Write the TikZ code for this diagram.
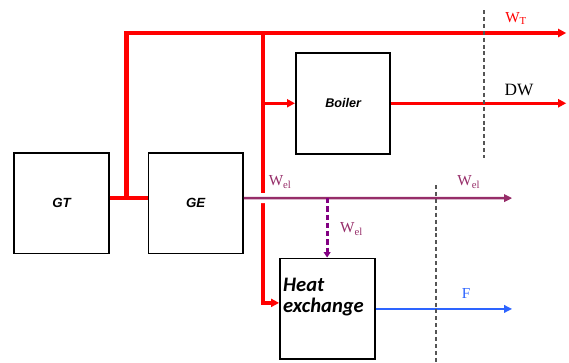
\documentclass[tikz,border=0pt]{standalone}
\usepackage{fontspec}
\setmainfont{Liberation Serif}
\newfontfamily\arialfont{Liberation Sans}
\newfontfamily\calibrifont{Carlito}
\usetikzlibrary{arrows.meta,positioning,calc}
\definecolor{elpurple}{RGB}{150,45,105}
\definecolor{auxpurple}{RGB}{130,0,130}
\definecolor{fblue}{RGB}{45,100,255}
\definecolor{cutgray}{RGB}{85,85,85}
\tikzstyle{unit} = [rectangle, minimum width=2.5cm, minimum height=2.67cm, draw=black, fill=white, line width=0.5mm, font=\arialfont\bfseries\itshape\fontsize{10}{12}\selectfont]
\tikzstyle{hxtext} = [align=left, inner sep=0pt, font=\calibrifont\bfseries\itshape\fontsize{15.5}{16}\selectfont]
\tikzstyle{heatline} = [draw=red, line width=3.4pt, -{Triangle[length=6pt,width=6pt]}]
\tikzstyle{steamline} = [draw=red, line width=2.5pt, -{Triangle[length=6pt,width=6pt]}]
\tikzstyle{elline} = [draw=elpurple, line width=1.9pt, -{Triangle[length=6pt,width=5.5pt]}]
\tikzstyle{auxline} = [draw=auxpurple, line width=2.2pt, dash pattern=on 4pt off 2.2pt, -{Triangle[length=4pt,width=5pt]}]
\tikzstyle{fline} = [draw=fblue, line width=1.6pt, -{Triangle[length=6pt,width=5.5pt]}]
\tikzstyle{boundary} = [draw=cutgray, line width=1.1pt, dash pattern=on 3pt off 2.2pt]
\tikzstyle{flowlabel} = [inner sep=0pt, font=\fontsize{11.5}{13}\selectfont]

\begin{document}
\begin{tikzpicture}

		\useasboundingbox (0,0) rectangle (15.05,-9.6);

		\node (GT) [unit] at (1.627,-5.371) {GT};
		\node (GE) [unit, right = 1cm of GT] {GE};
		\node (boiler) [unit, above right = -0.08cm and 1.35cm of GE, font=\arialfont\bfseries\itshape\fontsize{9.5}{12}\selectfont] {Boiler};
		\node (hx) [unit, below right = 0.08cm and 0.93cm of GE, label={[hxtext, anchor=west, label distance=0pt, xshift=0.1cm, yshift=0.32cm]west:Heat\\exchange}] {};

		% junctions and free ends
		\coordinate (j1) at ([xshift=0.45cm, yshift=0.13cm] GT.east);
		\coordinate (j2) at (6.959,-0.873);
		\coordinate (wt) at (14.976,-0.873);
		\coordinate (dw) at (boiler.east -| wt);
		\coordinate (wel) at (13.547,-5.24);
		\coordinate (jp) at (8.652,-5.24);
		\coordinate (fend) at (hx.east -| wel);

		\coordinate (cut1top) at (12.806,-0.265);
		\coordinate (cut1bot) at (12.806,-4.18);
		\coordinate (cut2top) at (11.536,-4.895);
		\coordinate (cut2bot) at (11.536,-9.6);

		% heat flows
		\draw [heatline, -] ([yshift=0.13cm] GT.east) -- ([yshift=0.13cm] GE.west);
		\draw [heatline] (j1) |- (wt);
		\draw [steamline] (j2) |- ([yshift=0.16cm] hx.west);
		\draw [steamline] (j2 |- boiler.west) -- (boiler.west);
		\draw [steamline] (boiler.east) -- (dw);

		% electricity
		\draw [elline, preaction={draw=white, line width=7.5pt, shorten <=4pt, shorten >=6cm, -}] ([yshift=0.13cm] GE.east) -- (wel);
		\draw [auxline] (jp) -- (jp |- hx.north);

		\draw [fline] (hx.east) -- (fend);

		% system boundary
		\draw [boundary] (cut1top) -- (cut1bot);
		\draw [boundary] (cut2top) -- (cut2bot);

		\node (lwt) [flowlabel, text=red] at (13.65,-0.49) {W\textsubscript{T}};
		\node (ldw) [flowlabel, font=\fontsize{13}{14}\selectfont] at (13.73,-2.38) {DW};
		\node (lel1) [flowlabel, text=elpurple] at (7.41,-4.82) {W\textsubscript{el}};
		\node (lel2) [flowlabel, text=elpurple] at (12.40,-4.82) {W\textsubscript{el}};
		\node (lel3) [flowlabel, text=elpurple] at (9.30,-6.06) {W\textsubscript{el}};
		\node (lf) [flowlabel, text=fblue, font=\fontsize{11.5}{12}\selectfont] at (12.33,-7.75) {F};

\end{tikzpicture}
\end{document}
